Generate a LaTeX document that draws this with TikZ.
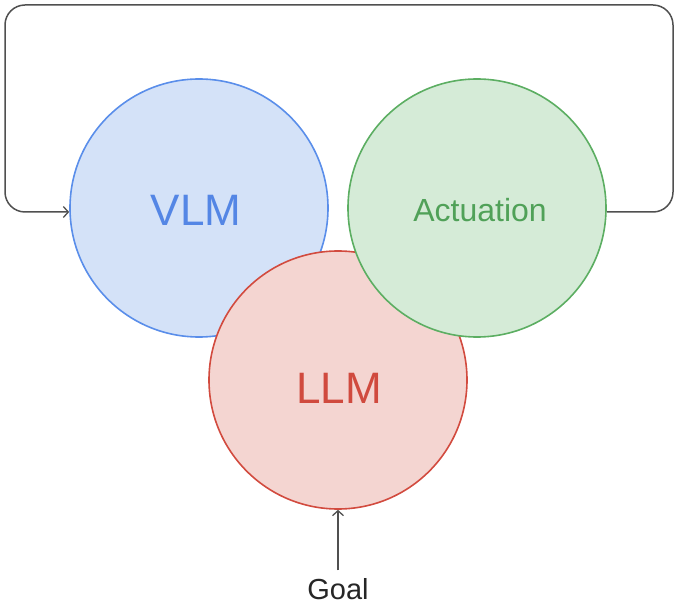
\documentclass[tikz,border=0pt]{standalone}
\usepackage{fontspec}
\setmainfont{Liberation Sans}
\usetikzlibrary{arrows.meta}
\definecolor{vlmfill}{HTML}{D4E2F8}
\definecolor{vlmline}{HTML}{5A8EEA}
\definecolor{vlmtext}{HTML}{5486E5}
\definecolor{actfill}{HTML}{D5EBD7}
\definecolor{actline}{HTML}{5CAE62}
\definecolor{acttext}{HTML}{50A158}
\definecolor{llmfill}{HTML}{F4D5D1}
\definecolor{llmline}{HTML}{D24B3F}
\definecolor{llmtext}{HTML}{D04A3E}
\definecolor{linkgray}{HTML}{505050}
\tikzset{
  blob/.style={circle, minimum size=258pt, inner sep=0pt, line width=1.6pt},
  link/.style={draw=linkgray, line width=1.5pt, -{Straight Barb[length=5pt,width=11pt,line width=1.3pt]}},
}
\begin{document}
\begin{tikzpicture}[x=1pt,y=-1pt]
\useasboundingbox (0,0) rectangle (680,609);
\node[blob, draw=vlmline, fill=vlmfill] (vlm) at (199,208) {};
\node[text=vlmtext, font=\fontsize{44}{48}\selectfont] (vlmlabel) at (196,210) {VLM};
\node[blob, draw=llmline, fill=llmfill] (llm) at (338,380) {};
\node[text=llmtext, font=\fontsize{44}{48}\selectfont] (llmlabel) at (339,388) {LLM};
\node[blob, draw=actline, fill=actfill] (act) at (477,208) {};
\node[text=acttext, font=\fontsize{32}{36}\selectfont] (actlabel) at (480,210) {Actuation};
\node[font=\fontsize{29}{32}\selectfont, text=black!85, anchor=base] (goal) at (338,599) {Goal};
\coordinate (r1) at (673,212);
\coordinate (r2) at (673,5);
\coordinate (l1) at (5,5);
\coordinate (l2) at (5,212);
\draw[link, rounded corners=20pt] (act.east |- r1) -- (r1) -- (r2) -- (l1) -- (l2) -- (vlm.west |- l2);
\draw[link] (goal.north) ++(0,-4) -- (llm.south);
\end{tikzpicture}
\end{document}
